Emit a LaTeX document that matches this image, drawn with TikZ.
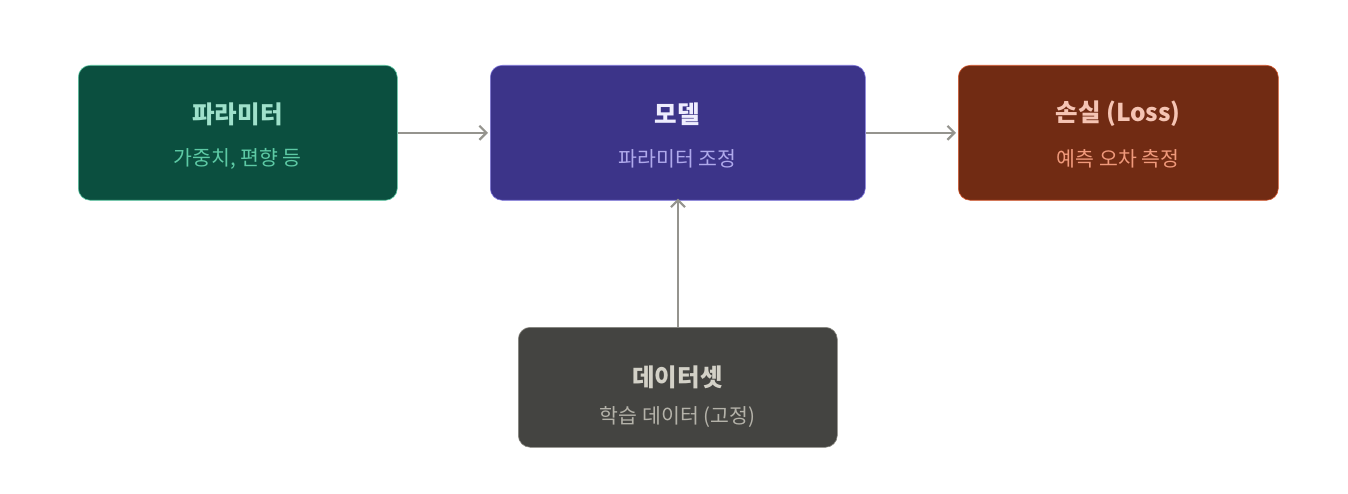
\documentclass[tikz,border=0pt]{standalone}
\usepackage{fontspec}
\setmainfont{Noto Sans CJK KR}
\usetikzlibrary{arrows.meta}
\definecolor{gfill}{HTML}{0B4F3F}
\definecolor{gline}{HTML}{5DCAA5}
\definecolor{gtitle}{HTML}{9FE1CB}
\definecolor{gsub}{HTML}{5DCAA5}
\definecolor{pfill}{HTML}{3C3489}
\definecolor{pline}{HTML}{7F77DD}
\definecolor{ptitle}{HTML}{EEEDFE}
\definecolor{psub}{HTML}{AFA9EC}
\definecolor{bfill}{HTML}{712B13}
\definecolor{bline}{HTML}{D85A30}
\definecolor{btitle}{HTML}{F5C4B3}
\definecolor{bsub}{HTML}{F0997B}
\definecolor{kfill}{HTML}{444441}
\definecolor{kline}{HTML}{888780}
\definecolor{ktitle}{HTML}{D3D1C7}
\definecolor{ksub}{HTML}{B4B2A9}
\definecolor{arr}{HTML}{95948E}
\tikzset{
  boxstyle/.style={rounded corners=12pt, line width=0.6pt},
  titletext/.style={font=\fontsize{24.5}{28}\selectfont\bfseries, anchor=center, inner sep=0pt},
  subtext/.style={font=\fontsize{20.5}{24}\selectfont, anchor=center, inner sep=0pt},
  conn/.style={draw=arr, line width=2.2pt, -{Straight Barb[length=7pt,width=14pt,line width=2.2pt]}}
}
\begin{document}
\begin{tikzpicture}[x=1pt,y=-1pt]
\useasboundingbox (0,0) rectangle (1348,494);
\fill[white] (0,0) rectangle (1348,494);
% boxes
\node[boxstyle, draw=gline, fill=gfill, minimum width=319pt, minimum height=135pt, anchor=north west] (par) at (78,65) {};
\node[boxstyle, draw=pline, fill=pfill, minimum width=375pt, minimum height=135pt, anchor=north west] (mod) at (490,65) {};
\node[boxstyle, draw=bline, fill=bfill, minimum width=320pt, minimum height=135pt, anchor=north west] (los) at (958,65) {};
\node[boxstyle, draw=kline, fill=kfill, minimum width=319pt, minimum height=120pt, anchor=north west] (dat) at (518,327) {};
% texts
\node[titletext, text=gtitle] (part) at (237.5,114) {파라미터};
\node[subtext, text=gsub] (pars) at (237.5,159) {가중치, 편향 등};
\node[titletext, text=ptitle] (modt) at (677.5,114) {모델};
\node[subtext, text=psub] (mods) at (677.5,159) {파라미터 조정};
\node[titletext, text=btitle] (lost) at (1118,114) {손실 (Loss)};
\node[subtext, text=bsub] (loss) at (1118,159) {예측 오차 측정};
\node[titletext, text=ktitle] (datt) at (677.5,377) {데이터셋};
\node[subtext, text=ksub] (dats) at (677.5,417) {학습 데이터 (고정)};
% connectors
\draw[conn] (par.east) -- ([xshift=-2pt]mod.west);
\draw[conn] (mod.east) -- ([xshift=-2pt]los.west);
\draw[conn] (dat.north -| 678,0) -- ([yshift=2pt]mod.south -| 678,0);
\end{tikzpicture}
\end{document}
